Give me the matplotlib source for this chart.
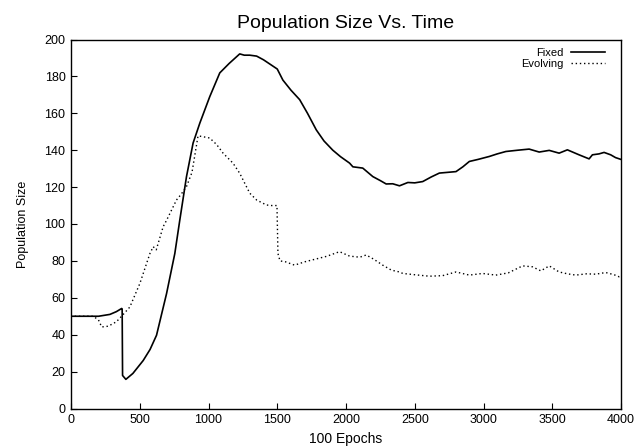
import matplotlib
matplotlib.use("Agg")
import matplotlib.pyplot as plt

plt.rcParams['font.family'] = ['Liberation Sans', 'DejaVu Sans']

# Fixed population size
fixed_x = [0, 1, 100, 200, 283, 330, 368, 372, 375, 399, 450, 525, 575, 622, 695,
           755, 791, 840, 888, 937, 1009, 1082, 1150, 1227, 1260, 1300, 1350, 1400,
           1450, 1500, 1541, 1600, 1663, 1720, 1784, 1840, 1904, 1960, 2026, 2050,
           2122, 2195, 2250, 2292, 2340, 2389, 2450, 2500, 2558, 2620, 2679, 2740,
           2800, 2850, 2897, 2960, 3042, 3100, 3163, 3250, 3332, 3405, 3478, 3550,
           3610, 3695, 3768, 3792, 3840, 3877, 3925, 3960, 4000]
fixed_y = [0, 50, 50, 50, 51, 52.5, 54.2, 54.0, 17.9, 15.8, 19, 26, 32, 39.7, 62.3,
           84, 102, 125.7, 143.9, 154.7, 169, 181.9, 187, 192.2, 191.5, 191.5, 191,
           189, 186.5, 184, 178, 172.5, 167.4, 160, 151, 145, 140, 136.5, 133, 131,
           130.3, 125.7, 123.5, 121.7, 121.8, 120.7, 122.5, 122.3, 123, 125.5, 127.6,
           128, 128.4, 131, 133.9, 135, 136.6, 138, 139.3, 140, 140.6, 139, 139.9,
           138.4, 140.2, 137.5, 135.3, 137.5, 138, 138.8, 137.5, 136, 135]

# Evolving population size
evol_x = [0, 1, 100, 162, 200, 223, 271, 330, 368, 428, 501, 574, 598, 620, 670,
          695, 767, 800, 840, 880, 924, 960, 1009, 1060, 1106, 1178, 1227, 1300,
          1350, 1421, 1460, 1498, 1505, 1520, 1560, 1626, 1700, 1780, 1860, 1953,
          2026, 2100, 2147, 2200, 2267, 2330, 2389, 2413, 2500, 2606, 2703, 2800,
          2897, 2993, 3090, 3180, 3284, 3356, 3417, 3478, 3550, 3610, 3671, 3750,
          3816, 3889, 3950, 3986, 4000]
evol_y = [0, 50, 50, 50, 48, 44.2, 44.6, 47, 50, 55, 67.8, 84, 87.7, 86, 98.5,
          102, 113, 116, 120.3, 128, 147.8, 147.3, 146.6, 143, 138.4, 133, 127.5,
          116.7, 113, 110.3, 110, 110, 84, 80, 79.5, 77.7, 79.5, 81, 82.5, 85,
          82.6, 82, 83.2, 81, 77.7, 75, 74, 73.2, 72.5, 71.7, 72, 74, 72.3, 73.2,
          72.3, 73.5, 77.3, 76.8, 74.6, 77.3, 74, 73, 72.3, 73, 72.8, 73.7, 72.5,
          71.4, 71.5]

x_ticks = [0, 500, 1000, 1500, 2000, 2500, 3000, 3500, 4000]
y_ticks = [0, 20, 40, 60, 80, 100, 120, 140, 160, 180, 200]

W, H = 641, 447
fig = plt.figure(figsize=(W / 100, H / 100), dpi=100)
# axes box in pixels: left 71, right 621, top 39.5, bottom 408.5
ax = fig.add_axes([71 / W, (H - 408.5) / H, 550 / W, 369 / H])

ax.plot(fixed_x, fixed_y, color='black', linewidth=1.2, label='Fixed')
ax.plot(evol_x, evol_y, color='black', linewidth=1.0, linestyle=(0, (1, 2)),
        label='Evolving')

ax.set_xlim(0, 4000)
ax.set_ylim(0, 200)
ax.set_xticks(x_ticks)
ax.set_yticks(y_ticks)
ax.tick_params(direction='in', length=4, width=0.8, labelsize=9, colors='black',
               top=False, right=False, pad=4)
for s in ax.spines.values():
    s.set_linewidth(1.0)
    s.set_color('black')

ax.set_title("Population Size Vs. Time", fontsize=14, pad=8)
ax.set_xlabel("100 Epochs", fontsize=10, labelpad=4)
ax.set_ylabel("Population Size", fontsize=9, labelpad=11)

leg = ax.legend(loc='upper right', bbox_to_anchor=(534 / 550, 0.978),
                frameon=False, markerfirst=False, fontsize=8,
                handlelength=3.05, handletextpad=0.7, labelspacing=0.15,
                borderaxespad=0, borderpad=0)
for t in leg.get_texts():
    t.set_ha('right')

fig.savefig("out.png", dpi=100)
